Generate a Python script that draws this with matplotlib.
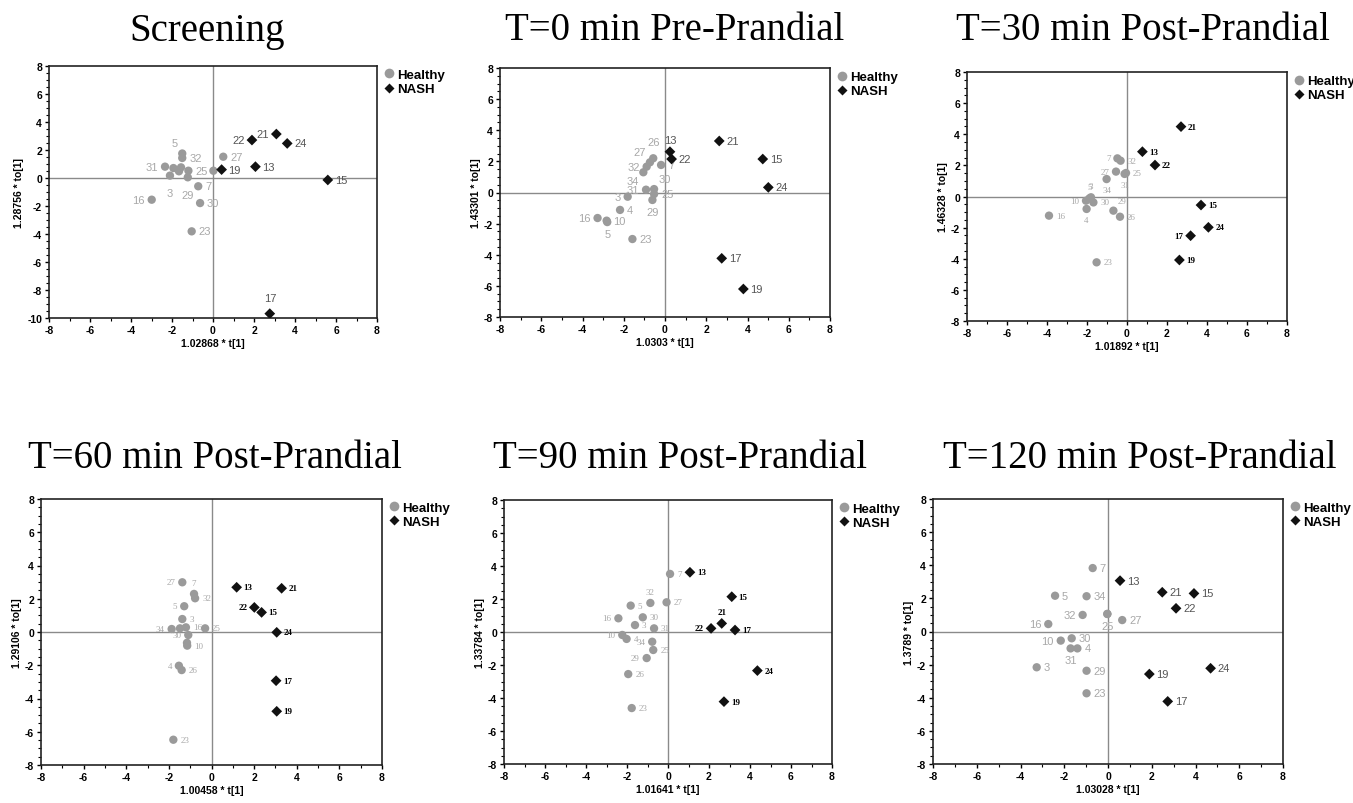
import matplotlib
matplotlib.use("Agg")
import matplotlib.pyplot as plt
from matplotlib.ticker import MultipleLocator
from matplotlib.lines import Line2D

plt.rcParams["axes.unicode_minus"] = False

# ── Text ────────────────────────────────────────────────────────────
titles = ["Screening", "T=0 min Pre-Prandial", "T=30 min Post-Prandial",
          "T=60 min Post-Prandial", "T=90 min Post-Prandial", "T=120 min Post-Prandial"]
x_labels = ["1.02868 * t[1]", "1.0303 * t[1]", "1.01892 * t[1]",
            "1.00458 * t[1]", "1.01641 * t[1]", "1.03028 * t[1]"]
y_labels = ["1.28756 * to[1]", "1.43301 * to[1]", "1.46328 * to[1]",
            "1.29106 * to[1]", "1.33784 * to[1]", "1.3789 * to[1]"]
y_mins = [-10, -8, -8, -8, -8, -8]

# ── Data (scores) ───────────────────────────────────────────────────
h_ids = ["3", "4", "5", "7", "10", "16", "23", "25", "26", "27", "29", "30", "31", "32", "34"]
n_ids = ["13", "15", "17", "19", "21", "22", "24"]

# Screening
scr_h_x = [-2.10, -1.66, -1.50, -0.72, -1.93, -2.99, -1.04, -1.20, 0.02, 0.50, -1.23, -0.63, -2.34, -1.50, -1.56]
scr_h_y = [0.17, 0.48, 1.75, -0.59, 0.71, -1.55, -3.81, 0.52, 0.52, 1.52, 0.05, -1.79, 0.81, 1.43, 0.76]
scr_h_lab = ["3", "", "5", "7", "", "16", "23", "25", "", "27", "29", "30", "31", "32", ""]
scr_n_x = [2.07, 5.60, 2.77, 0.42, 3.09, 1.90, 3.62]
scr_n_y = [0.81, -0.14, -9.69, 0.60, 3.14, 2.71, 2.47]

# T=0
t0_h_x = [-1.81, -2.18, -2.80, -0.19, -2.83, -3.27, -1.58, -0.53, -0.57, -0.73, -0.61, -0.53, -0.92, -0.89, -1.05]
t0_h_y = [-0.27, -1.12, -1.90, 1.77, -1.81, -1.64, -2.99, -0.10, 2.20, 1.94, -0.48, 0.22, 0.18, 1.66, 1.30]
t0_h_lab = h_ids
t0_n_x = [0.24, 4.74, 2.75, 3.80, 2.63, 0.32, 5.01]
t0_n_y = [2.62, 2.15, -4.23, -6.20, 3.31, 2.15, 0.33]

# T=30
t30_h_x = [-1.80, -2.02, -1.88, -0.48, -2.05, -3.90, -1.52, -0.05, -0.35, -0.55, -0.68, -1.68, -0.12, -0.32, -1.02]
t30_h_y = [-0.05, -0.80, -0.12, 2.45, -0.27, -1.23, -4.23, 1.51, -1.30, 1.60, -0.91, -0.38, 1.45, 2.30, 1.12]
t30_h_lab = h_ids
t30_n_x = [0.77, 3.70, 3.18, 2.62, 2.70, 1.40, 4.07]
t30_n_y = [2.88, -0.55, -2.52, -4.08, 4.49, 2.02, -1.98]

# T=60
t60_h_x = [-1.37, -1.53, -1.28, -0.82, -1.14, -1.20, -1.79, -0.30, -1.40, -1.37, -1.15, -1.09, -1.48, -0.77, -1.87]
t60_h_y = [0.78, -2.03, 1.55, 2.29, -0.82, 0.28, -6.48, 0.22, -2.29, 2.99, -0.65, -0.18, 0.22, 2.03, 0.18]
t60_h_lab = ["3", "4", "5", "7", "10", "16", "23", "25", "26", "27", "", "30", "", "32", "34"]
t60_n_x = [1.18, 2.35, 3.03, 3.06, 3.29, 2.01, 3.06]
t60_n_y = [2.69, 1.18, -2.93, -4.77, 2.63, 1.48, -0.02]

# T=90
t90_h_x = [-1.61, -2.02, -1.82, 0.10, -2.23, -2.42, -1.77, -0.72, -1.94, -0.07, -1.04, -1.23, -0.68, -0.86, -0.77]
t90_h_y = [0.42, -0.42, 1.60, 3.52, -0.18, 0.83, -4.61, -1.09, -2.55, 1.80, -1.58, 0.89, 0.22, 1.76, -0.59]
t90_h_lab = h_ids
t90_n_x = [1.07, 3.11, 3.27, 2.73, 2.62, 2.10, 4.36]
t90_n_y = [3.62, 2.14, 0.12, -4.22, 0.52, 0.22, -2.34]

# T=120
t120_h_x = [-3.26, -1.40, -2.42, -0.70, -2.16, -2.73, -0.98, -0.03, -0.03, 0.65, -0.98, -1.66, -1.71, -1.16, -0.98]
t120_h_y = [-2.16, -1.02, 2.16, 3.83, -0.55, 0.45, -3.73, 1.06, 1.06, 0.69, -2.37, -0.41, -1.02, 1.00, 2.13]
t120_h_lab = ["3", "4", "5", "7", "10", "16", "23", "25", "", "27", "29", "30", "31", "32", "34"]
t120_n_x = [0.55, 3.93, 2.73, 1.89, 2.48, 3.11, 4.69]
t120_n_y = [3.07, 2.30, -4.22, -2.57, 2.37, 1.40, -2.22]

# ── Label placement (default: right of the marker) ─────────────────
place = [
    {"5": "al", "31": "l", "3": "bb", "29": "bb", "16": "l", "17": "aa", "21": "l", "22": "l"},
    {"3": "l", "5": "b", "16": "l", "26": "aa", "27": "al", "32": "l", "34": "bl",
     "31": "l", "29": "b", "30": "ar", "13": "a"},
    {"7": "l", "27": "l", "10": "l", "4": "b", "5": "a", "3": "a", "34": "b",
     "31": "b", "29": "ar", "17": "l"},
    {"27": "l", "5": "l", "34": "l", "30": "l", "4": "l", "7": "a", "22": "l"},
    {"32": "a", "16": "l", "10": "l", "29": "l", "34": "l", "21": "a", "22": "l"},
    {"32": "l", "16": "l", "10": "l", "25": "b", "31": "b"},
]
OFFS = {"r": (5, 0, "left", "center"), "l": (-5, 0, "right", "center"),
        "a": (0, 5, "center", "bottom"), "b": (0, -5, "center", "top"),
        "aa": (0, 8, "center", "bottom"), "bb": (0, -9, "center", "top"),
        "al": (-3, 4, "right", "bottom"), "ar": (3, 4, "left", "bottom"),
        "bl": (-3, -3, "right", "top")}

# axes rectangles in pixels: left, right, top, bottom
W, H = 1353, 804
rects = [(49, 377, 67, 319), (500, 830, 69, 318), (967, 1287, 73, 322),
         (41, 382, 500, 766), (504, 832, 501, 765), (933, 1283, 500, 765)]
title_xy = [(207, 31), (675, 31), (1143, 31), (215, 459), (680, 459), (1140, 459)]

panels = [
    (scr_h_x, scr_h_y, scr_h_lab, scr_n_x, scr_n_y),
    (t0_h_x, t0_h_y, t0_h_lab, t0_n_x, t0_n_y),
    (t30_h_x, t30_h_y, t30_h_lab, t30_n_x, t30_n_y),
    (t60_h_x, t60_h_y, t60_h_lab, t60_n_x, t60_n_y),
    (t90_h_x, t90_h_y, t90_h_lab, t90_n_x, t90_n_y),
    (t120_h_x, t120_h_y, t120_h_lab, t120_n_x, t120_n_y),
]

HEALTHY = "#9a9a9a"
NASH = "#111111"
SANS = "Liberation Sans"
SERIF = "Liberation Serif"

fig = plt.figure(figsize=(W / 100, H / 100), dpi=100)

for i, (hx, hy, hlab, nx, ny) in enumerate(panels):
    l, r, t, b = rects[i]
    ax = fig.add_axes([l / W, 1 - b / H, (r - l) / W, (b - t) / H])
    ax.set_xlim(-8, 8)
    ax.set_ylim(y_mins[i], 8)
    ax.axhline(0, color="#8a8a8a", lw=1.0, zorder=1)
    ax.axvline(0, color="#8a8a8a", lw=1.0, zorder=1)

    ax.scatter(hx, hy, s=36, marker="o", color=HEALTHY, edgecolors="none", zorder=3)
    ax.scatter(nx, ny, s=30, marker="D", color=NASH, edgecolors="none", zorder=4)

    small = i in (2, 3, 4)
    for lab, x, y in zip(hlab, hx, hy):
        if not lab:
            continue
        dx, dy, ha, va = OFFS[place[i].get(lab, "r")]
        ax.annotate(lab, (x, y), xytext=(dx, dy), textcoords="offset points",
                    ha=ha, va=va, color="#a8a8a8",
                    fontsize=6.5 if small else 8, family=SERIF if small else SANS,
                    zorder=2)
    for lab, x, y in zip(n_ids, nx, ny):
        dx, dy, ha, va = OFFS[place[i].get(lab, "r")]
        ax.annotate(lab, (x, y), xytext=(dx, dy), textcoords="offset points",
                    ha=ha, va=va,
                    color="#000000" if small else "#555555",
                    fontsize=6.5 if small else 8, family=SERIF if small else SANS,
                    fontweight="bold" if small else "normal", zorder=2)

    ax.xaxis.set_major_locator(MultipleLocator(2))
    ax.yaxis.set_major_locator(MultipleLocator(2))
    ax.xaxis.set_minor_locator(MultipleLocator(1))
    ax.yaxis.set_minor_locator(MultipleLocator(0.5))
    ax.tick_params(which="major", length=3, width=1, labelsize=7.5, pad=2)
    ax.tick_params(which="minor", length=2, width=0.8)
    for lb in ax.get_xticklabels() + ax.get_yticklabels():
        lb.set_fontweight("bold")
        lb.set_family(SANS)
    for sp in ax.spines.values():
        sp.set_linewidth(1.2)
        sp.set_color("#222222")

    ax.set_xlabel(x_labels[i], fontsize=7.5, fontweight="bold", family=SANS, labelpad=2)
    ax.set_ylabel(y_labels[i], fontsize=7.5, fontweight="bold", family=SANS, labelpad=2)

    handles = [
        Line2D([], [], ls="none", marker="o", ms=7, color=HEALTHY, mec="none", label="Healthy"),
        Line2D([], [], ls="none", marker="D", ms=5.5, color=NASH, mec="none", label="NASH"),
    ]
    ax.legend(handles=handles, loc="upper left", bbox_to_anchor=(1.0, 1.02),
              frameon=False, handlelength=0.6, handletextpad=0.3,
              borderaxespad=0.2, labelspacing=0.15,
              prop={"family": SANS, "weight": "bold", "size": 9.5})

    tx, ty = title_xy[i]
    fig.text(tx / W, 1 - ty / H, titles[i], ha="center", va="center",
             family=SERIF, fontsize=28)

fig.savefig("out.png", dpi=100)
